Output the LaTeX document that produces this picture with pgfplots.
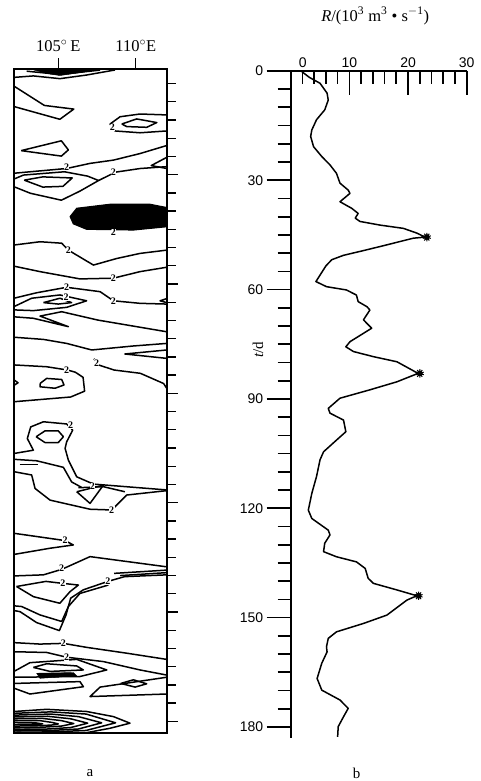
\documentclass[border=0pt]{standalone}
\usepackage{fontspec}
\setmainfont{Liberation Serif}
\setsansfont{Liberation Sans}
\usepackage{pgfplots}
\pgfplotsset{compat=1.18}
\usetikzlibrary{plotmarks}

\begin{document}
\begin{tikzpicture}[
  cl/.style={black, line width=1.5pt, line join=round},
  lb/.style={font=\bfseries\fontsize{10}{10}\selectfont, inner sep=0.3pt, fill=white},
]
\useasboundingbox (0,0) rectangle (481pt,781pt);

% ---------- panel a: contours ----------
\begin{axis}[
  scale only axis,
  width=152.7pt, height=664pt,
  at={(14pt,48pt)}, anchor=south west,
  xmin=102.14, xmax=112, ymin=1, ymax=183.2,
  y dir=reverse,
  axis line style={line width=2pt},
  xtick={105,110},
  xticklabels={105$^\circ\,$E, 110$^\circ$E},
  xtick pos=upper,
  ytick={0,30,...,180},
  minor y tick num=5,
  yticklabels={},
  ytick pos=right,
  tick align=outside,
  major tick length=11pt,
  minor tick length=9pt,
  tick style={line width=1.4pt, black},
  xticklabel style={font=\fontsize{16.5}{18}\selectfont, yshift=3pt},
]
% top lens
\addplot[black, fill=black] coordinates {(103.2,1)(104.2,2.2)(105.1,2.8)(106.4,2.0)(107.8,1)};
\addplot[cl] coordinates {(102.14,3.3)(103.39,2.9)(105.11,3.65)(106.83,2.65)(108.66,1.27)};
\addplot[cl] coordinates {(102.96,1.6)(105.11,2.5)(107.7,1.3)};
% wedge and closed shapes near top
\addplot[cl] coordinates {(102.14,5.7)(104.1,11.0)(106.0,12.0)(105.1,14.8)(102.14,11.3)};
\addplot[cl] coordinates {(112,13.6)(110.28,13.35)(108.99,14.1)(108.34,16.1)(108.66,18.0)(110.28,18.5)(112,18.0)};
\addplot[cl] coordinates {(109.1,16.1)(110.06,14.7)(111.36,15.7)(110.71,17.0)(109.42,16.8)(109.1,16.1)};
\addplot[cl] coordinates {(102.6,23.4)(105.2,20.7)(105.65,23.2)(105.2,24.9)(102.6,23.4)};
\addplot[cl] coordinates {(112,25.25)(111.0,27.5)(112,28.3)};
\addplot[cl] coordinates {(102.14,29.6)(105.54,28.3)(107.05,26.9)(108.56,26.0)(110.28,24.2)(112,22.0)};
\addplot[cl] coordinates {(102.14,31.2)(102.75,30.1)(105.4,29.2)(106.9,30.4)(107.6,31.6)(106.4,34.5)(105.2,37.0)(103.2,35.1)(102.14,33.3)};
\addplot[cl] coordinates {(102.8,31.5)(104.0,30.6)(105.9,30.9)(105.3,33.2)(104.0,33.4)(102.8,31.5)};
\addplot[cl] coordinates {(112,27.8)(110.3,28.3)(108.7,29.3)(107.6,31.6)};
% dense core
\addplot[black, fill=black, line width=1pt] coordinates {(105.76,41.5)(106.19,39.2)(108.34,38.1)(110.93,38.1)(112,39.0)(112,44.3)(109.85,45.2)(106.83,45.0)(105.97,43.5)(105.76,41.5)};
\addplot[cl] coordinates {(102.14,49.3)(103.82,48.4)(105.22,48.8)(105.65,50.7)(107.27,54.8)(108.77,53.0)(110.28,51.6)(112,50.7)};
\addplot[cl] coordinates {(102.14,55.1)(103.82,56.6)(106.4,58.6)(108.56,58.4)(110.28,56.6)(112,55.4)};
\addplot[cl] coordinates {(102.14,63.9)(103.6,62.4)(105.54,60.9)(107.7,62.1)(108.56,64.6)(110.28,65.3)(112,65.5)};
\addplot[cl] coordinates {(102.14,66.2)(103.28,63.9)(105.11,63.0)(106.83,64.6)(105.54,66.4)(103.39,67.3)(102.14,67.1)};
\addplot[cl] coordinates {(104.04,65.1)(105.11,63.9)(105.86,65.1)(105.0,65.5)(104.04,65.1)};
\addplot[cl] coordinates {(112,64.0)(111.57,64.6)(112,65.1)};
\addplot[cl] coordinates {(102.14,69.0)(103.39,69.4)(105.65,71.7)(103.82,68.8)(105.22,67.6)(107.56,69.9)(112,73.1)};
\addplot[cl] coordinates {(102.14,74.6)(104.04,75.2)(105.54,76.3)(107.16,78.1)(109.85,77.0)(112,76.3)};
\addplot[cl] coordinates {(112,78.1)(109.3,79.2)(112,80.4)};
\addplot[cl] coordinates {(107.3,80.5)(107.6,82.2)(108.6,83.6)(110.3,84.5)(111.8,87.3)(112,88.6)};
\addplot[cl] coordinates {(102.14,82.2)(104.25,82.7)(105.6,83.6)(106.1,84.2)(106.6,85.6)(106.7,89.4)(105.8,91.0)(102.14,92.3)};
\addplot[cl] coordinates {(103.82,87.3)(104.25,85.9)(105.22,86.2)(105.37,87.7)(104.79,88.6)(103.82,88.2)(103.82,87.3)};
\addplot[cl] coordinates {(102.14,86.3)(102.4,87.1)(102.14,87.8)};
\addplot[cl] coordinates {(102.14,106.5)(103.39,105.6)(103.0,102.4)(103.22,99.2)(104.04,97.8)(105.54,98.4)(105.93,100.1)(105.54,103.3)(105.44,105.1)(105.65,108.3)(106.19,112.9)(107.27,114.9)(112,116.5)};
\addplot[cl] coordinates {(103.57,101.9)(104.14,100.3)(105.0,100.3)(105.33,101.9)(105.0,103.5)(104.14,103.5)(103.57,101.9)};
\addplot[cl] coordinates {(102.14,108.1)(103.6,108.5)(105.33,110.3)(105.86,114.3)(106.5,115.8)};
\addplot[cl] coordinates {(102.5,109.5)(103.7,109.5)};
\addplot[cl] coordinates {(102.14,111.5)(103.28,112.4)(103.5,116.1)(104.47,119.3)(107.05,121.8)(108.45,122.0)(109.42,117.9)(112,116.7)};
\addplot[cl] coordinates {(106.19,117.0)(107.91,115.2)(107.05,120.2)(106.19,117.0)};
\addplot[cl] coordinates {(106.3,115.9)(107.9,115.6)(109.3,117.0)};
\addplot[cl] coordinates {(102.14,128.4)(105.44,130.4)(105.97,131.6)(104.47,132.5)(102.14,134.2)};
\addplot[cl] coordinates {(102.14,140.1)(104.04,139.8)(105.22,138.3)(107.05,134.8)(112,137.6)};
\addplot[cl] coordinates {(108.2,141.6)(109.28,140.3)(112,139.8)};
\addplot[cl] coordinates {(108.6,139.4)(112,138.5)};
\addplot[cl] coordinates {(109.0,140.0)(112,139.2)};
\addplot[cl] coordinates {(108.34,141.4)(106.62,143.9)(105.8,146.2)(105.5,150.8)(105.07,155.1)(103.6,152.9)(102.53,149.9)(102.14,149.6)};
\addplot[cl] coordinates {(108.23,142.6)(106.4,144.9)(105.65,148.5)(105.22,152.6)(103.82,150.8)(102.64,148.5)(102.14,148.3)};
\addplot[cl] coordinates {(102.3,143.0)(103.4,145.8)(105.1,147.6)(105.76,144.4)(106.3,142.6)(105.2,142.1)(104.2,141.6)(102.3,143.0)};
\addplot[cl] coordinates {(102.14,158.4)(103.82,158.8)(105.33,158.6)(106.83,159.7)(109.42,161.3)(112,163.0)};
\addplot[cl] coordinates {(102.14,160.9)(104.25,161.1)(105.54,162.4)(107.91,163.6)(110.28,165.9)(112,167.3)};
\addplot[cl] coordinates {(102.14,166.3)(103.17,163.9)(106.19,163.0)(108.13,165.9)(106.4,167.7)(102.14,167.9)};
\addplot[cl] coordinates {(103.39,165.2)(104.25,164.2)(106.19,164.8)(106.62,165.9)(104.47,166.3)(103.39,165.2)};
\addplot[black, fill=black] coordinates {(103.6,166.8)(105.97,166.6)(106.19,167.5)(103.82,168.2)(103.6,166.8)};
\addplot[cl] coordinates {(102.14,169.6)(106.4,169.1)(106.62,170.5)(103.17,172.5)(102.14,170.9)};
\addplot[cl] coordinates {(112,167.9)(107.7,170.6)(107.05,173.2)(112,172.5)};
\addplot[cl] coordinates {(109.03,169.6)(109.85,168.6)(110.71,169.7)(109.96,170.6)(109.03,169.6)};
% bottom nested cell
\addplot[cl] coordinates {(102.14,177.3)(104.25,176.7)(106.83,177.3)(108.56,178.7)(109.63,180.5)(108.34,181.9)(106.83,183.1)(102.14,183.2)};
\addplot[cl] coordinates {(102.14,177.8)(104.5,177.4)(106.8,178.0)(108.7,180.4)(106.8,182.5)(104.5,182.9)(102.14,183.0)};
\addplot[cl] coordinates {(102.14,178.3)(104.5,178.0)(106.3,178.7)(107.8,180.4)(106.3,182.1)(104.5,182.5)(102.14,182.6)};
\addplot[cl] coordinates {(102.14,178.8)(104.3,178.6)(105.8,179.3)(106.9,180.5)(105.8,181.7)(104.3,182.1)(102.14,182.2)};
\addplot[cl] coordinates {(102.14,179.3)(104.0,179.2)(105.2,179.8)(106.0,180.6)(105.2,181.3)(104.0,181.6)(102.14,181.8)};
\addplot[cl] coordinates {(102.14,179.8)(103.8,179.8)(104.6,180.3)(105.0,180.7)(104.6,181.0)(103.8,181.2)(102.14,181.3)};
\addplot[cl] coordinates {(102.14,180.3)(103.5,180.4)(104.0,180.7)(103.5,180.9)(102.14,180.9)};
% contour labels
\node[lb] at (axis cs:105.54,28.0) {2};
\node[lb] at (axis cs:108.56,29.2) {2};
\node[lb] at (axis cs:108.5,17.0) {2};
\node[lb] at (axis cs:108.56,45.9) {2};
\node[lb] at (axis cs:105.65,50.7) {2};
\node[lb] at (axis cs:108.56,58.4) {2};
\node[lb] at (axis cs:105.54,60.9) {2};
\node[lb] at (axis cs:105.5,63.6) {2};
\node[lb] at (axis cs:108.56,64.6) {2};
\node[lb] at (axis cs:107.48,81.6) {2};
\node[lb] at (axis cs:105.54,83.6) {2};
\node[lb] at (axis cs:105.8,98.8) {2};
\node[lb] at (axis cs:108.45,122.0) {2};
\node[lb] at (axis cs:107.2,115.5) {2};
\node[lb] at (axis cs:105.44,130.4) {2};
\node[lb] at (axis cs:105.22,138.0) {2};
\node[lb] at (axis cs:108.2,141.6) {2};
\node[lb] at (axis cs:105.3,142.1) {2};
\node[lb] at (axis cs:105.33,158.6) {2};
\node[lb] at (axis cs:105.54,162.4) {2};
\end{axis}

% ---------- panel b: discharge ----------
\begin{axis}[
  scale only axis,
  width=176pt, height=667pt,
  at={(290.7pt,43.1pt)}, anchor=south west,
  xmin=0, xmax=30, ymin=0, ymax=183,
  y dir=reverse,
  axis x line*=top, axis y line*=left,
  axis line style={line width=2pt, -},
  xtick={0,10,20,30},
  xticklabels={\hspace*{24pt}0,10,20,30},
  minor x tick num=4,
  ytick={0,30,...,180},
  minor y tick num=5,
  xtick align=inside, ytick align=outside,
  major tick length=24pt,
  minor tick length=13pt,
  tick style={line width=1.7pt, black},
  /pgf/number format/assume math mode=true,
  ticklabel style={font=\sffamily\fontsize{14}{16}\selectfont},
  xlabel={\textit{R}/(10\textsuperscript{3} m\textsuperscript{3} \textbullet{} s\textsuperscript{$-$1})},
  xlabel style={at={(axis description cs:0.48,1.0825)}, anchor=center, font=\fontsize{16.5}{18}\selectfont},
  ylabel={\textit{t}/d},
  ylabel style={at={(axis description cs:-0.186,0.582)}, anchor=center, font=\fontsize{15}{17}\selectfont},
]
\addplot[black, line width=1.5pt, line join=round] coordinates {
(1.9,0.2)(3.2,1.8)(5.0,3.4)(6.2,6.1)(6.4,8.0)(5.8,10.7)(4.4,13.4)(3.6,16.2)(3.4,18.0)(3.9,20.8)
(5.3,23.5)(6.7,25.8)(7.8,28.1)(8.4,30.8)(9.8,32.7)(10.1,33.6)(8.4,35.9)(10.4,37.7)(11.5,39.1)(11.0,40.4)
(11.8,41.3)(15.2,42.3)(19.2,43.2)(21.5,44.5)(22.9,45.6)(20.9,45.9)(15.2,48.2)(12.4,49.3)(9.0,50.6)(7.0,51.8)
(6.0,53.5)(4.3,57.8)(6.1,59.2)(9.5,60.1)(11.2,61.5)(11.5,63.3)(13.0,64.7)(13.5,65.6)(12.4,68.3)(13.8,70.6)
(12.4,72.0)(10.1,74.3)(9.4,75.7)(10.7,77.0)(14.1,78.4)(18.1,79.8)(20.6,82.0)(21.7,83.0)(18.1,85.3)(13.5,87.5)
(8.4,89.8)(6.4,92.6)(6.7,93.9)(9.0,95.8)(9.4,99.0)(7.8,101.3)(5.6,104.5)(5.0,106.7)(4.4,111.3)(3.6,115.9)
(3.2,119.0)(3.0,120.5)(3.6,122.8)(6.4,126.0)(6.7,127.3)(5.8,129.6)(5.6,131.9)(7.8,133.3)(11.2,134.7)(12.7,136.5)
(13.2,139.2)(14.1,140.6)(18.1,142.4)(21.5,144.0)(19.8,145.2)(16.4,149.3)(12.4,151.6)(7.8,153.9)(6.4,155.7)(6.1,158.0)
(6.2,159.4)(5.3,162.5)(4.5,166.7)(5.3,169.9)(8.4,172.6)(9.8,174.9)(9.0,177.2)(8.1,179.9)(8.0,182.7)
};
\addplot[only marks, mark=*, mark size=2.6pt, black] coordinates {(23.2,45.6)(22.0,83.0)(21.8,144.0)};
\addplot[only marks, mark=10-pointed star, mark size=4.2pt, black, mark options={line width=1pt}] coordinates {(23.2,45.6)(22.0,83.0)(21.8,144.0)};
\end{axis}

\node[font=\fontsize{15}{17}\selectfont] at (90pt,8pt) {a};
\node[font=\fontsize{15}{17}\selectfont] at (356.7pt,8pt) {b};
\end{tikzpicture}
\end{document}
